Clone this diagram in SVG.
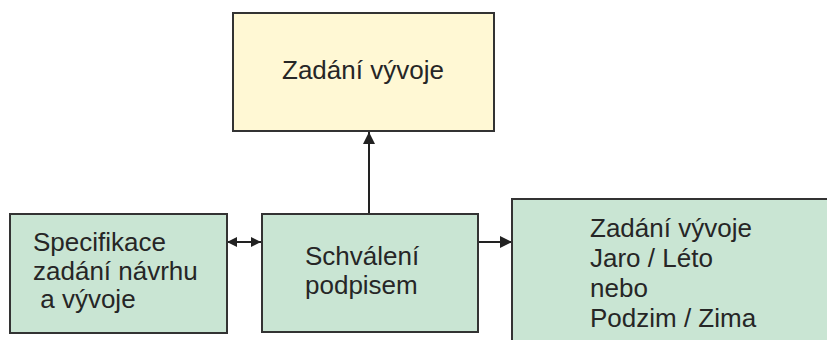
<svg xmlns="http://www.w3.org/2000/svg" width="827" height="340" viewBox="0 0 827 340">
  <style>
    .box { stroke: #333333; stroke-width: 2; }
    .yellow { fill: #FFF8D4; }
    .green { fill: #C9E5D3; }
    .label { font-family: "Liberation Sans", Arial, sans-serif; font-size: 26px; fill: #262626; }
    .conn { stroke: #222222; stroke-width: 2; fill: none; }
  </style>
  <defs>
    <marker id="head" viewBox="0 0 12 12" refX="12" refY="6" markerWidth="12" markerHeight="12" markerUnits="userSpaceOnUse" orient="auto-start-reverse">
      <path d="M0,0 L12,6 L0,12 Z" fill="#222222"/>
    </marker>
    <marker id="headSmall" viewBox="0 0 10 10" refX="10" refY="5" markerWidth="10" markerHeight="10" markerUnits="userSpaceOnUse" orient="auto-start-reverse">
      <path d="M0,0 L10,5 L0,10 Z" fill="#222222"/>
    </marker>
  </defs>

  <g id="connectors">
    <line class="conn" x1="369" y1="214" x2="369" y2="132" marker-end="url(#head)"/>
    <line class="conn" x1="227" y1="242" x2="261" y2="242" marker-start="url(#headSmall)" marker-end="url(#headSmall)"/>
    <line class="conn" x1="478" y1="242" x2="512" y2="242" marker-end="url(#head)"/>
  </g>

  <g id="zadani">
    <rect class="box yellow" x="233" y="13" width="261" height="118"/>
    <text class="label" x="282" y="79">Zadání vývoje</text>
  </g>

  <g id="specifikace">
    <rect class="box green" x="10" y="214" width="217" height="119"/>
    <text class="label" x="33" y="251">Specifikace</text>
    <text class="label" x="33" y="280">zadání návrhu</text>
    <text class="label" x="33" y="308" xml:space="preserve"> a vývoje</text>
  </g>

  <g id="schvaleni">
    <rect class="box green" x="262" y="214" width="216" height="118"/>
    <text class="label" x="305" y="265">Schválení</text>
    <text class="label" x="305" y="294">podpisem</text>
  </g>

  <g id="obdobi">
    <rect class="box green" x="512" y="199" width="330" height="160"/>
    <text class="label" x="590" y="237">Zadání vývoje</text>
    <text class="label" x="590" y="267">Jaro / Léto</text>
    <text class="label" x="590" y="297">nebo</text>
    <text class="label" x="590" y="327">Podzim / Zima</text>
  </g>
</svg>
